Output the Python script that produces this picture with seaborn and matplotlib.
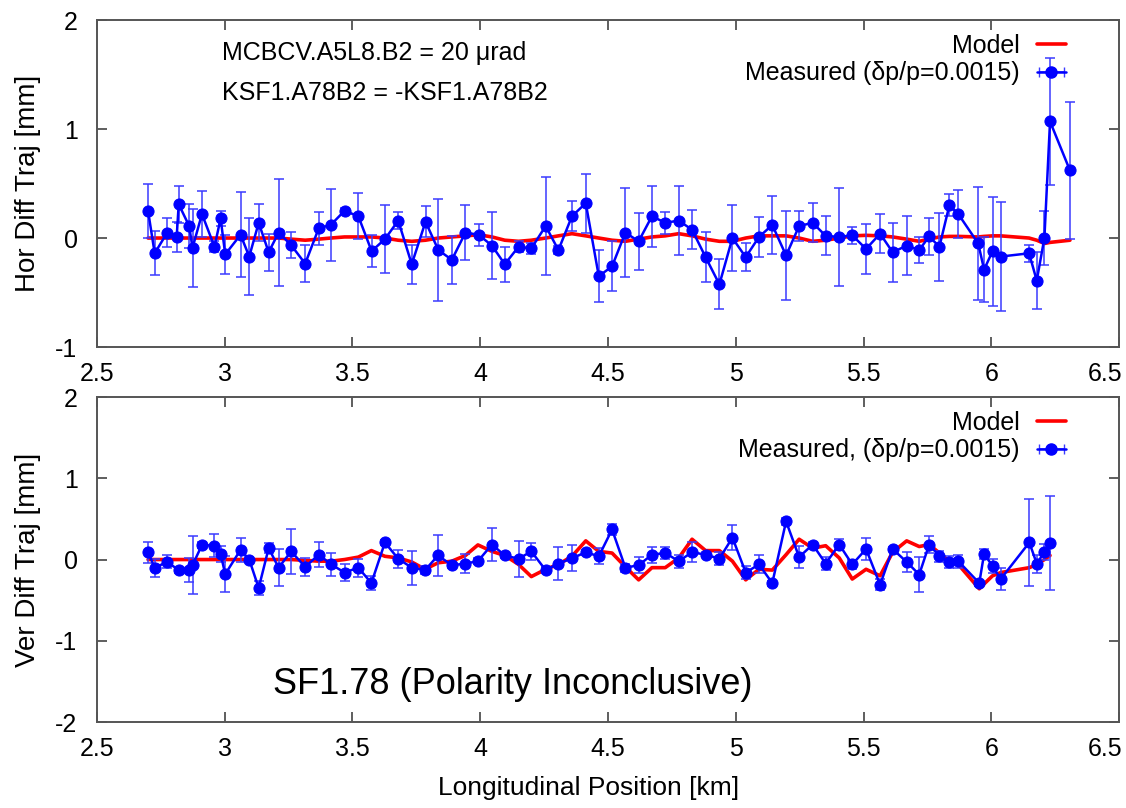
import numpy as np
import matplotlib
matplotlib.use("Agg")
import matplotlib.pyplot as plt
import matplotlib.transforms as mtransforms
from matplotlib.ticker import FormatStrFormatter
import seaborn as sns

# --- horizontal difference trajectory (top panel) ---
x_hor = [2.700, 2.726, 2.775, 2.812, 2.820, 2.861, 2.874, 2.911, 2.960, 2.984, 3.002,
         3.062, 3.096, 3.133, 3.172, 3.211, 3.260, 3.315, 3.368, 3.415, 3.469,
         3.523, 3.575, 3.627, 3.679, 3.732, 3.786, 3.836, 3.889, 3.942, 3.994,
         4.046, 4.096, 4.150, 4.200, 4.256, 4.306, 4.359, 4.413, 4.464,
         4.516, 4.568, 4.620, 4.672, 4.724, 4.777, 4.829, 4.882, 4.936, 4.987,
         5.039, 5.091, 5.143, 5.197, 5.248, 5.301, 5.352, 5.405,
         5.456, 5.510, 5.565, 5.614, 5.669, 5.718, 5.757, 5.797, 5.836, 5.871,
         5.949, 5.972, 6.005, 6.037, 6.148, 6.178, 6.208, 6.230, 6.308]
meas_hor = [0.25, -0.14, 0.05, 0.01, 0.31, 0.11, -0.09, 0.22, -0.08, 0.18, -0.15,
            0.03, -0.17, 0.14, -0.13, 0.05, -0.065, -0.235, 0.09, 0.12, 0.25,
            0.20, -0.12, -0.01, 0.16, -0.24, 0.15, -0.11, -0.20, 0.05, 0.03,
            -0.07, -0.24, -0.08, -0.095, 0.11, -0.11, 0.20, 0.32, -0.35,
            -0.26, 0.05, -0.03, 0.20, 0.14, 0.16, 0.076, -0.175, -0.425, 0.00,
            -0.175, 0.01, 0.12, -0.16, 0.11, 0.14, 0.02, 0.01,
            0.025, -0.10, 0.04, -0.13, -0.07, -0.11, 0.015, -0.08, 0.30, 0.22,
            -0.05, -0.29, -0.12, -0.17, -0.14, -0.39, 0.00, 1.07, 0.62]
err_hor = [0.25, 0.20, 0.13, 0.14, 0.17, 0.20, 0.36, 0.21, 0.05, 0.07, 0.18,
           0.39, 0.35, 0.17, 0.17, 0.49, 0.12, 0.17, 0.15, 0.33, 0.03,
           0.21, 0.15, 0.31, 0.08, 0.18, 0.14, 0.47, 0.22, 0.25, 0.10,
           0.31, 0.16, 0.05, 0.05, 0.45, 0.04, 0.14, 0.27, 0.24,
           0.23, 0.41, 0.26, 0.28, 0.10, 0.32, 0.18, 0.23, 0.23, 0.30,
           0.13, 0.18, 0.27, 0.41, 0.14, 0.18, 0.18, 0.45,
           0.08, 0.23, 0.18, 0.27, 0.27, 0.12, 0.17, 0.31, 0.10, 0.22,
           0.52, 0.30, 0.50, 0.50, 0.08, 0.26, 0.25, 0.58, 0.63]
model_hor = [0.0, 0.0, 0.0, 0.0, 0.0, 0.0, 0.0, 0.0, 0.0, 0.0, 0.0,
             0.0, 0.0, 0.0, 0.0, 0.0, -0.01, -0.02, -0.01, 0.0, 0.01,
             0.01, 0.01, 0.0, -0.02, -0.03, -0.02, 0.0, 0.01, 0.02, 0.03,
             0.01, -0.02, -0.03, -0.02, 0.0, 0.02, 0.04, 0.02, 0.0,
             -0.02, -0.03, -0.01, 0.01, 0.02, 0.04, 0.02, -0.01, -0.03, -0.03,
             0.0, 0.02, 0.02, 0.02, 0.0, -0.03, -0.02, 0.0,
             0.02, 0.025, 0.02, 0.01, -0.01, -0.03, -0.01, 0.01, 0.015, 0.015,
             0.01, 0.015, 0.02, 0.02, 0.0, -0.02, -0.05, -0.04, -0.02]

# --- vertical difference trajectory (bottom panel) ---
x_ver = [2.700, 2.726, 2.775, 2.820, 2.861, 2.874, 2.911, 2.960, 2.984, 3.002,
         3.062, 3.096, 3.133, 3.172, 3.211, 3.260, 3.315, 3.368, 3.417, 3.469,
         3.523, 3.574, 3.627, 3.679, 3.732, 3.784, 3.835, 3.889, 3.942, 3.991,
         4.046, 4.096, 4.150, 4.200, 4.256, 4.306, 4.359, 4.413, 4.464,
         4.516, 4.568, 4.620, 4.672, 4.724, 4.777, 4.829, 4.882, 4.936, 4.987,
         5.039, 5.091, 5.143, 5.197, 5.248, 5.301, 5.352, 5.405,
         5.456, 5.510, 5.565, 5.614, 5.669, 5.718, 5.757, 5.797, 5.836, 5.871,
         5.953, 5.972, 6.005, 6.037, 6.149, 6.178, 6.208, 6.230]
meas_ver = [0.09, -0.10, -0.03, -0.13, -0.13, -0.07, 0.18, 0.17, 0.07, -0.18,
            0.12, 0.00, -0.35, 0.14, -0.10, 0.10, -0.09, 0.06, -0.06, -0.16,
            -0.10, -0.29, 0.21, 0.01, -0.10, -0.13, 0.05, -0.07, -0.05, -0.02,
            0.185, 0.05, 0.01, 0.10, -0.13, -0.05, 0.015, 0.09, 0.04,
            0.37, -0.10, -0.07, 0.06, 0.08, -0.02, 0.09, 0.06, 0.01, 0.27,
            -0.16, -0.06, -0.29, 0.47, 0.03, 0.185, -0.05, 0.185,
            -0.06, 0.13, -0.31, 0.13, -0.03, -0.185, 0.185, 0.04, -0.03, -0.02,
            -0.29, 0.07, -0.08, -0.24, 0.21, -0.05, 0.09, 0.205]
err_ver = [0.13, 0.11, 0.08, 0.03, 0.15, 0.36, 0.04, 0.14, 0.10, 0.22,
           0.15, 0.03, 0.09, 0.06, 0.23, 0.28, 0.11, 0.15, 0.14, 0.10,
           0.11, 0.09, 0.03, 0.11, 0.21, 0.05, 0.25, 0.03, 0.12, 0.04,
           0.20, 0.03, 0.22, 0.10, 0.04, 0.20, 0.16, 0.03, 0.10,
           0.07, 0.05, 0.10, 0.10, 0.07, 0.08, 0.12, 0.03, 0.08, 0.15,
           0.08, 0.11, 0.03, 0.04, 0.14, 0.03, 0.08, 0.07,
           0.06, 0.14, 0.07, 0.03, 0.12, 0.22, 0.10, 0.07, 0.07, 0.08,
           0.03, 0.06, 0.09, 0.13, 0.53, 0.11, 0.10, 0.58]
model_ver = [0.0, 0.0, 0.0, 0.0, 0.0, 0.0, 0.0, 0.0, 0.0, 0.0,
             0.0, 0.0, 0.0, 0.0, 0.0, 0.0, -0.01, -0.02, -0.02, 0.0,
             0.03, 0.11, 0.04, 0.02, -0.03, -0.12, -0.04, -0.02, 0.05, 0.18,
             0.10, 0.05, -0.06, -0.21, -0.12, -0.06, 0.04, 0.23, 0.10,
             0.08, -0.09, -0.25, -0.10, -0.10, 0.02, 0.25, 0.11, 0.11, -0.02,
             -0.25, -0.12, -0.13, 0.06, 0.25, 0.14, 0.17, 0.02,
             -0.24, -0.12, -0.20, 0.09, 0.23, 0.16, 0.185, 0.08, -0.02, -0.06,
             -0.36, -0.30, -0.20, -0.16, -0.10, -0.06, 0.0, 0.05]

x_ticks = [2.5, 3, 3.5, 4, 4.5, 5, 5.5, 6, 6.5]
hor_yticks = [-1, 0, 1, 2]
ver_yticks = [-2, -1, 0, 1, 2]

sns.set_theme(style="ticks")
plt.rcParams['font.family'] = ['Liberation Sans', 'DejaVu Sans']
plt.rcParams['axes.unicode_minus'] = False
plt.rcParams['text.color'] = 'black'
plt.rcParams['axes.labelcolor'] = 'black'
plt.rcParams['xtick.labelcolor'] = 'black'
plt.rcParams['ytick.labelcolor'] = 'black'

FS = 18


def draw_panel(ax, x, meas, err, model, yticks, ylabel, meas_label):
    sns.lineplot(x=x, y=model, ax=ax, color='red', lw=2.6, legend=False, zorder=2)
    ax.errorbar(x, meas, yerr=err, fmt='none', ecolor='#3b3bff', elinewidth=1.1,
                capsize=3.5, capthick=1.1, zorder=3)
    sns.lineplot(x=x, y=meas, ax=ax, color='blue', lw=1.8, marker='o', markersize=8,
                 markeredgecolor='blue', legend=False, zorder=4)
    # proxy for the gnuplot style key sample (horizontal bar with caps)
    proxy = ax.errorbar([np.nan], [np.nan], xerr=[0.1], fmt='-o', color='blue',
                        ecolor='#3b3bff', elinewidth=1.1, capsize=3.5, lw=1.8, ms=8)
    model_line = ax.lines[0]
    ax.legend([model_line, proxy], ['Model', meas_label], loc='upper right',
              bbox_to_anchor=(0.948, 0.957), frameon=False, markerfirst=False,
              fontsize=FS, handlelength=1.15, handletextpad=0.7,
              labelspacing=0.13, borderpad=0, borderaxespad=0)

    ax.set_xlim(x_ticks[0], x_ticks[-1])
    ax.set_ylim(yticks[0], yticks[-1])
    ax.set_xticks(x_ticks)
    ax.set_yticks(yticks)
    ax.xaxis.set_major_formatter(FormatStrFormatter('%g'))
    ax.yaxis.set_major_formatter(FormatStrFormatter('%g'))
    ax.tick_params(direction='in', top=True, right=True, length=7, width=1.1,
                   color='#333333', labelsize=FS, labelcolor='black')
    ax.tick_params(axis='x', pad=11)
    ax.tick_params(axis='y', pad=14)
    for sp in ax.spines.values():
        sp.set_color('#555555')
        sp.set_linewidth(1.4)
    ax.set_ylabel(ylabel, fontsize=20, labelpad=10)
    ax.set_xlabel('')


fig = plt.figure(figsize=(11.26, 8.08), dpi=100)
ax1 = fig.add_axes([0.0861, 0.5705, 0.9077, 0.4047])
ax2 = fig.add_axes([0.0861, 0.1064, 0.9077, 0.4022])

draw_panel(ax1, x_hor, meas_hor, err_hor, model_hor, hor_yticks,
           'Hor Diff Traj [mm]', 'Measured (\u03b4p/p=0.0015)')
draw_panel(ax2, x_ver, meas_ver, err_ver, model_ver, ver_yticks,
           'Ver Diff Traj [mm]', 'Measured, (\u03b4p/p=0.0015)')

# keep the last x tick label inside the figure, as in the original
fig.canvas.draw()
for ax in (ax1, ax2):
    last = ax.get_xticklabels()[-1]
    last.set_transform(last.get_transform() +
                       mtransforms.ScaledTranslation(-10 / 72, 0, fig.dpi_scale_trans))

ax1.text(2.99, 1.70, 'MCBCV.A5L8.B2 = 20 \u03bcrad', fontsize=FS, va='center', ha='left')
ax1.text(2.99, 1.33, 'KSF1.A78B2 = -KSF1.A78B2', fontsize=FS, va='center', ha='left')
ax2.text(3.19, -1.54, 'SF1.78 (Polarity Inconclusive)', fontsize=26, va='center', ha='left')

ax2.set_xlabel('Longitudinal Position [km]', fontsize=19)
ax2.xaxis.set_label_coords(0.481, -0.165)

fig.savefig('out.png', dpi=100)
